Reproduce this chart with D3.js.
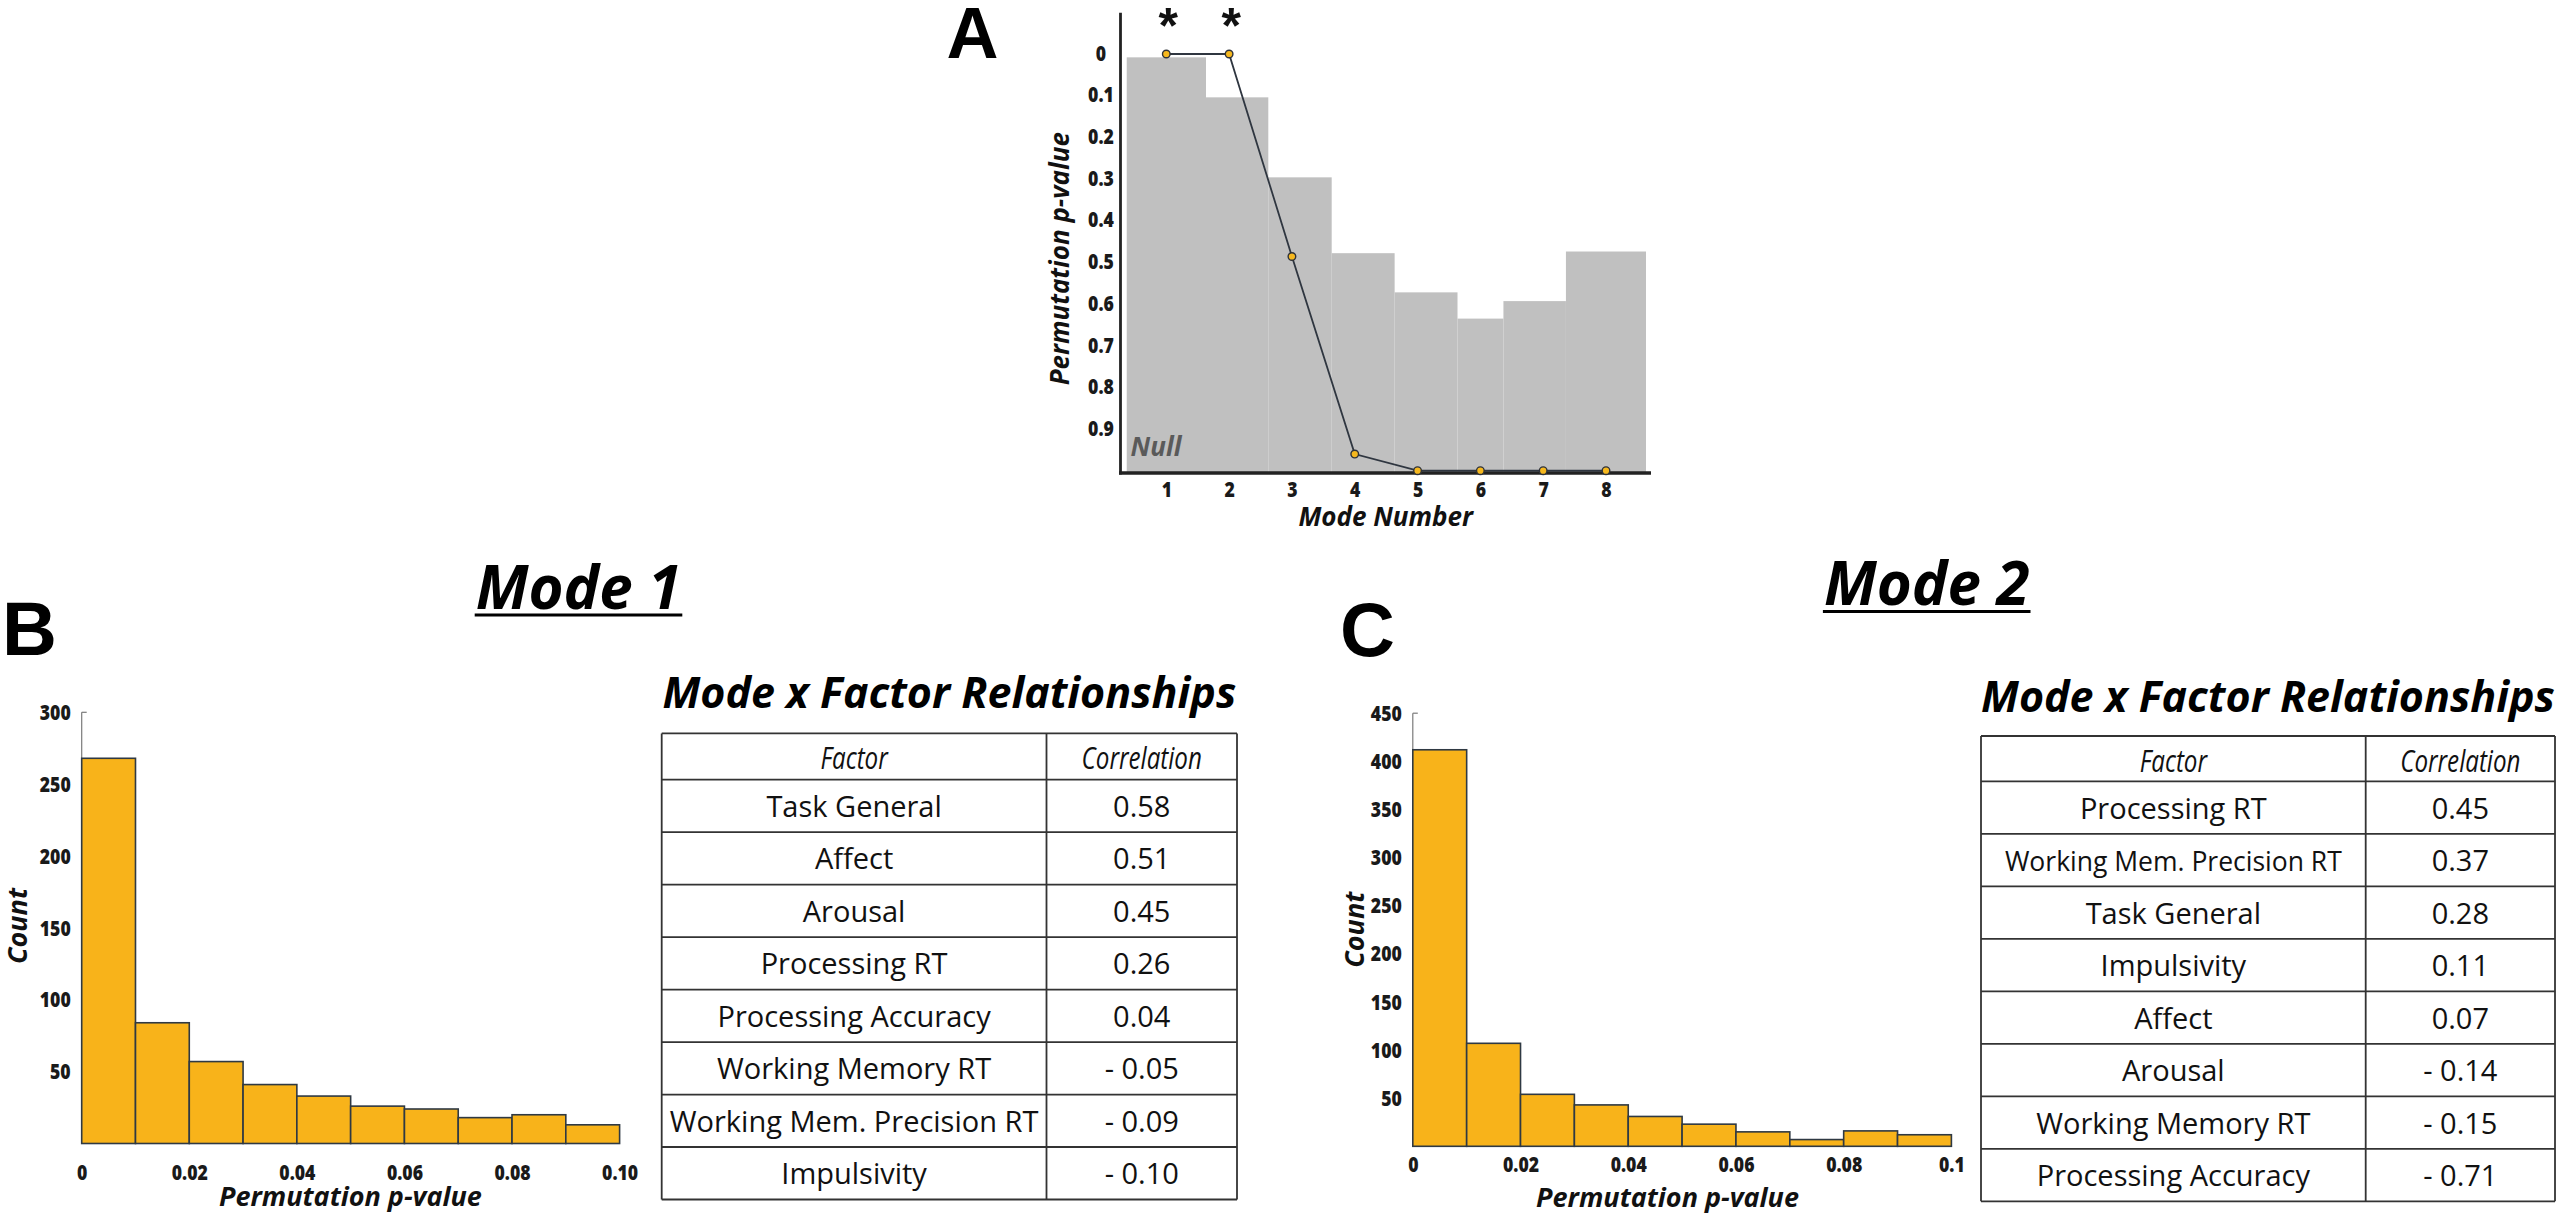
<!DOCTYPE html>
<html><head><meta charset="utf-8">
<script src="https://cdn.jsdelivr.net/npm/d3@7"></script>
<style>
html,body{margin:0;padding:0;background:#fff;}
svg{display:block;}
</style></head><body>
<svg id="chart" width="2560" height="1219"></svg>
<script>
// ---------------- DATA ----------------
const modeNumbers = [1, 2, 3, 4, 5, 6, 7, 8];
const observedP = [0, 0, 0.486, 0.96, 1, 1, 1, 1];
const nullP = [0.008, 0.104, 0.296, 0.478, 0.572, 0.635, 0.593, 0.474];
const nullEdges = [0.37, 1.632, 2.624, 3.633, 4.635, 5.636, 6.367, 7.362, 8.637];
const significantModes = [1, 2];
const pTicks = [0, 0.1, 0.2, 0.3, 0.4, 0.5, 0.6, 0.7, 0.8, 0.9];
const pTickLabels = ["0", "0.1", "0.2", "0.3", "0.4", "0.5", "0.6", "0.7", "0.8", "0.9"];

const binEdges = [0, 0.01, 0.02, 0.03, 0.04, 0.05, 0.06, 0.07, 0.08, 0.09, 0.1];
const mode1Counts = [268, 84, 57, 41, 33, 26, 24, 18, 20, 13];
const mode2Counts = [412, 107, 54, 43, 31, 23, 15, 7, 16, 12];
const mode1CountTicks = [50, 100, 150, 200, 250, 300];
const mode2CountTicks = [50, 100, 150, 200, 250, 300, 350, 400, 450];
const histPTicks = [0, 0.02, 0.04, 0.06, 0.08, 0.1];
const mode1PTickLabels = ["0", "0.02", "0.04", "0.06", "0.08", "0.10"];
const mode2PTickLabels = ["0", "0.02", "0.04", "0.06", "0.08", "0.1"];

const mode1Factors = ["Task General", "Affect", "Arousal", "Processing RT", "Processing Accuracy", "Working Memory RT", "Working Mem. Precision RT", "Impulsivity"];
const mode1Corr = [0.58, 0.51, 0.45, 0.26, 0.04, -0.05, -0.09, -0.10];
const mode2Factors = ["Processing RT", "Working Mem. Precision RT", "Task General", "Impulsivity", "Affect", "Arousal", "Working Memory RT", "Processing Accuracy"];
const mode2Corr = [0.45, 0.37, 0.28, 0.11, 0.07, -0.14, -0.15, -0.71];

// ---------------- STYLE ----------------
const FS = "'Open Sans', 'Noto Sans', sans-serif";
const FH = "'Liberation Sans', Arial, Helvetica, sans-serif";
const TICK_SX = 0.84;
const svg = d3.select("#chart");
svg.append("rect").attr("width", 2560).attr("height", 1219).attr("fill", "#fff");

function boldItalic(sel, size) {
  return sel.attr("font-family", FS).attr("font-weight", 700).attr("font-style", "italic")
    .attr("font-size", size).attr("fill", "#111");
}
function styleTicks(sel) {
  sel.attr("font-family", FS).attr("font-weight", 800).attr("font-size", 21).attr("fill", "#1a1a1a");
}

// ---------------- PANEL A ----------------
(function () {
  const x = d3.scaleLinear().domain([1, 8]).range([1166.3, 1606]);
  const y = d3.scaleLinear().domain([0, 1]).range([54, 470.7]);
  const g = svg.append("g");
  const axisY = 473;

  g.selectAll("rect.null").data(nullP).join("rect").attr("class", "null")
    .attr("x", (d, i) => x(nullEdges[i]))
    .attr("width", (d, i) => x(nullEdges[i + 1]) - x(nullEdges[i]))
    .attr("y", d => y(d))
    .attr("height", d => axisY - y(d))
    .attr("fill", "#c0c0c0");

  const gy = g.append("g").attr("transform", "translate(1120.5,0)")
    .call(d3.axisLeft(y).tickValues(pTicks).tickSize(0).tickFormat((d, i) => pTickLabels[i]));
  gy.attr("font-size", null).attr("font-family", null);
  gy.select(".domain").remove();
  gy.selectAll("text").call(styleTicks)
    .attr("text-anchor", "middle").attr("x", -19.5 / TICK_SX).attr("dy", "0.3em")
    .attr("transform", `scale(${TICK_SX},1)`);
  g.append("line").attr("x1", 1120.5).attr("x2", 1120.5).attr("y1", 12.7).attr("y2", axisY + 1.5)
    .attr("stroke", "#222").attr("stroke-width", 2.8);

  const gx = g.append("g").attr("transform", `translate(0,${axisY})`)
    .call(d3.axisBottom(x).tickValues(modeNumbers).tickSize(0).tickFormat(d3.format("d")));
  gx.attr("font-size", null).attr("font-family", null);
  gx.select(".domain").remove();
  gx.selectAll("text").call(styleTicks).attr("y", 23.7).attr("dy", 0)
    .attr("transform", `scale(${TICK_SX},1)`);
  g.append("line").attr("x1", 1119).attr("x2", 1651).attr("y1", axisY).attr("y2", axisY)
    .attr("stroke", "#222").attr("stroke-width", 3.3);

  const line = d3.line().x((d, i) => x(modeNumbers[i])).y(d => y(d));
  g.append("path").datum(observedP).attr("d", line).attr("fill", "none")
    .attr("stroke", "#2f3640").attr("stroke-width", 1.8);
  g.selectAll("circle").data(observedP).join("circle")
    .attr("cx", (d, i) => x(modeNumbers[i])).attr("cy", d => y(d)).attr("r", 3.8)
    .attr("fill", "#f6b81e").attr("stroke", "#2f3238").attr("stroke-width", 1.4);

  g.selectAll("text.star").data(significantModes).join("text").attr("class", "star")
    .attr("x", d => x(d) + 2).attr("y", 43).attr("text-anchor", "middle")
    .attr("font-family", FH).attr("font-weight", 700).attr("font-size", 50).attr("fill", "#111")
    .text("*");

  g.append("text").text("Null").attr("x", 1130.6).attr("y", 456)
    .call(boldItalic, 26).attr("fill", "#5a5a5a");
  g.append("text").text("Mode Number").attr("x", 1385.7).attr("y", 526)
    .attr("text-anchor", "middle").call(boldItalic, 26);
  g.append("text").text("Permutation p-value")
    .attr("transform", "translate(1069,258.7) rotate(-90)")
    .attr("text-anchor", "middle").call(boldItalic, 26);
  g.append("text").text("A").attr("x", 946.5).attr("y", 58.3)
    .attr("font-family", FH).attr("font-weight", 700).attr("font-size", 72).attr("fill", "#000");
})();

// ---------------- HISTOGRAMS ----------------
function drawHist(cfg) {
  const x = d3.scaleLinear().domain([0, 0.1]).range(cfg.xRange);
  const y = d3.scaleLinear().domain([0, cfg.yMax]).range(cfg.yRange);
  const g = svg.append("g");

  g.append("line").attr("x1", x(0)).attr("x2", x(0)).attr("y1", y(cfg.yMax)).attr("y2", y(0))
    .attr("stroke", "#7a7a7a").attr("stroke-width", 1.2);
  g.append("line").attr("x1", x(0)).attr("x2", x(0) + 5).attr("y1", y(cfg.yMax)).attr("y2", y(cfg.yMax))
    .attr("stroke", "#7a7a7a").attr("stroke-width", 1.2);

  g.selectAll("rect").data(cfg.counts).join("rect")
    .attr("x", (d, i) => x(binEdges[i]))
    .attr("width", (d, i) => x(binEdges[i + 1]) - x(binEdges[i]))
    .attr("y", d => y(d)).attr("height", d => y(0) - y(d))
    .attr("fill", "#f8b31a").attr("stroke", "#2f3943").attr("stroke-width", 1.6);

  const gy = g.append("g").attr("transform", `translate(${x(0)},0)`)
    .call(d3.axisLeft(y).tickValues(cfg.yTicks).tickSize(0).tickFormat(d3.format("d")));
  gy.attr("font-size", null).attr("font-family", null);
  gy.select(".domain").remove();
  gy.selectAll("text").call(styleTicks).attr("text-anchor", "end")
    .attr("x", -11 / TICK_SX).attr("dy", "0.34em").attr("transform", `scale(${TICK_SX},1)`);

  const gx = g.append("g").attr("transform", `translate(0,${y(0)})`)
    .call(d3.axisBottom(x).tickValues(histPTicks).tickSize(0).tickFormat((d, i) => cfg.xTickLabels[i]));
  gx.attr("font-size", null).attr("font-family", null);
  gx.select(".domain").remove();
  gx.selectAll("text").call(styleTicks).attr("y", cfg.xTickOffset).attr("dy", 0)
    .attr("transform", `scale(${TICK_SX},1)`);

  g.append("text").text("Count")
    .attr("transform", `translate(${cfg.countPos[0]},${cfg.countPos[1]}) rotate(-90)`)
    .attr("text-anchor", "middle").call(boldItalic, 27);
  g.append("text").text("Permutation p-value").attr("x", cfg.xLabelPos[0]).attr("y", cfg.xLabelPos[1])
    .attr("text-anchor", "middle").call(boldItalic, 27);

  g.append("text").text(cfg.letter).attr("x", cfg.letterPos[0]).attr("y", cfg.letterPos[1])
    .attr("font-family", FH).attr("font-weight", 700).attr("font-size", 76).attr("fill", "#000");

  const t = g.append("text").text(cfg.title).attr("x", cfg.titlePos[0]).attr("y", cfg.titlePos[1])
    .attr("text-anchor", "middle").call(boldItalic, 60).attr("fill", "#000");
  const bb = t.node().getBBox();
  g.append("line").attr("x1", bb.x - 1).attr("x2", bb.x + bb.width + 1)
    .attr("y1", cfg.underlineY).attr("y2", cfg.underlineY)
    .attr("stroke", "#000").attr("stroke-width", 3.2);
}

drawHist({
  xRange: [81.7, 619.6], yMax: 300, yRange: [1143.5, 712.3],
  counts: mode1Counts, yTicks: mode1CountTicks, xTickLabels: mode1PTickLabels,
  xTickOffset: 37, countPos: [27, 926], xLabelPos: [350.4, 1206],
  letter: "B", letterPos: [2, 655], title: "Mode 1", titlePos: [578.5, 609], underlineY: 615
});
drawHist({
  xRange: [1412.8, 1951.4], yMax: 450, yRange: [1146.3, 713.2],
  counts: mode2Counts, yTicks: mode2CountTicks, xTickLabels: mode2PTickLabels,
  xTickOffset: 26, countPos: [1364, 929.7], xLabelPos: [1667.5, 1207],
  letter: "C", letterPos: [1340, 656], title: "Mode 2", titlePos: [1926.7, 605], underlineY: 611.5
});

// ---------------- TABLES ----------------
function fmtCorr(d) { return d < 0 ? "- " + Math.abs(d).toFixed(2) : d.toFixed(2); }

function drawTable(cfg) {
  const g = svg.append("g");
  const nRows = cfg.factors.length;
  const rowY = d3.scaleLinear().domain([0, nRows]).range([cfg.top + cfg.headerH, cfg.bottom]);
  const c1 = (cfg.left + cfg.divider) / 2, c2 = (cfg.divider + cfg.right) / 2;

  g.append("text").text("Mode x Factor Relationships")
    .attr("x", (cfg.left + cfg.right) / 2).attr("y", cfg.titleY)
    .attr("text-anchor", "middle").call(boldItalic, 43).attr("fill", "#000");

  [["Factor", c1], ["Correlation", c2]].forEach(([s, cx]) => {
    g.append("text").text(s)
      .attr("transform", `translate(${cx},${cfg.top + 36}) scale(0.78,1)`)
      .attr("text-anchor", "middle").attr("font-family", FS).attr("font-style", "italic")
      .attr("font-size", 31).attr("fill", "#111");
  });

  const rows = g.selectAll("g.row").data(cfg.factors).join("g").attr("class", "row");
  rows.append("text").text(d => d).attr("x", c1).attr("y", (d, i) => (rowY(i) + rowY(i + 1)) / 2 + 11)
    .attr("text-anchor", "middle").attr("font-family", FS).attr("font-size", 29).attr("fill", "#111")
    .each(function () {
      if (cfg.maxW) {
        let fs = 29;
        while (this.getComputedTextLength() > cfg.maxW && fs > 10) { fs -= 0.5; d3.select(this).attr("font-size", fs); }
      }
    });
  rows.append("text").text((d, i) => fmtCorr(cfg.corr[i])).attr("x", c2)
    .attr("y", (d, i) => (rowY(i) + rowY(i + 1)) / 2 + 11)
    .attr("text-anchor", "middle").attr("font-family", FS).attr("font-size", 29).attr("fill", "#111");

  const hLines = [cfg.top].concat(d3.range(nRows + 1).map(i => rowY(i)));
  g.selectAll("line.h").data(hLines).join("line").attr("class", "h")
    .attr("x1", cfg.left).attr("x2", cfg.right).attr("y1", d => d).attr("y2", d => d)
    .attr("stroke", "#333").attr("stroke-width", 1.8);
  g.selectAll("line.v").data([cfg.left, cfg.divider, cfg.right]).join("line").attr("class", "v")
    .attr("x1", d => d).attr("x2", d => d).attr("y1", cfg.top).attr("y2", cfg.bottom)
    .attr("stroke", "#333").attr("stroke-width", 1.8);
}

drawTable({
  left: 661.7, right: 1237, divider: 1046.5, top: 733.4, headerH: 46.2, bottom: 1199.5,
  titleY: 708.3, factors: mode1Factors, corr: mode1Corr, maxW: null
});
drawTable({
  left: 1981, right: 2555, divider: 2365.7, top: 736, headerH: 45.4, bottom: 1201.3,
  titleY: 712, factors: mode2Factors, corr: mode2Corr, maxW: 343
});
</script>
</body></html>
